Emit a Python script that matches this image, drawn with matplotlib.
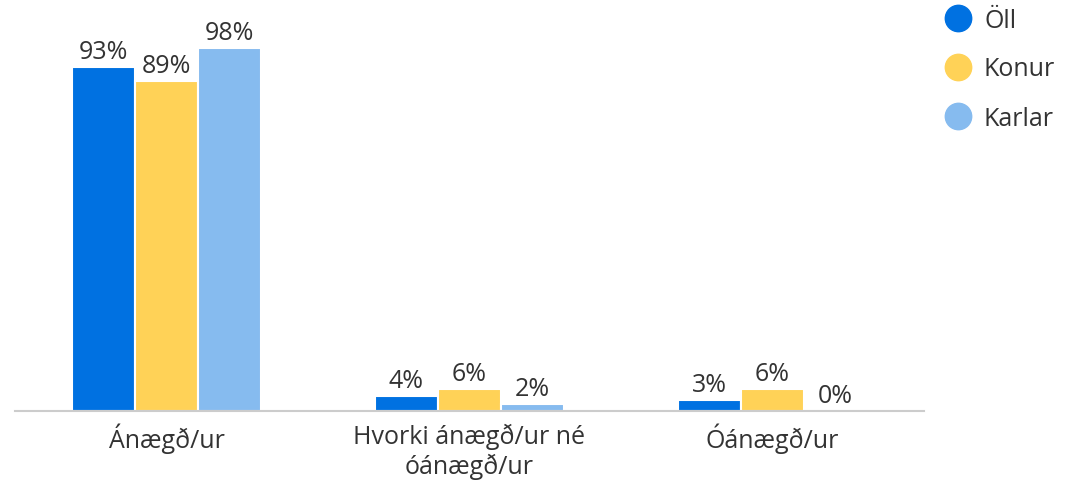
import matplotlib
matplotlib.use("Agg")
import matplotlib.pyplot as plt
import numpy as np

plt.rcParams['font.family'] = ['Open Sans', 'DejaVu Sans']

categories = ["Ánægð/ur", "Hvorki ánægð/ur né\nóánægð/ur", "Óánægð/ur"]
series_names = ["Öll", "Konur", "Karlar"]
oll = [93, 4, 3]
konur = [89, 6, 6]
karlar = [98, 2, 0]
colors = ["#0071E1", "#FFD257", "#86BBEF"]

W, H = 1066, 484
fig = plt.figure(figsize=(W/100, H/100), dpi=100)
ax = fig.add_axes([15/W, 73/H, (924-15)/W, (411-20)/H])

x = np.arange(len(categories))
w = 0.208
text_color = "#333333"
fs = 18
for i, (vals, c) in enumerate(zip([oll, konur, karlar], colors)):
    pos = x + (i - 1) * w
    ax.bar(pos, vals, width=w, color=c, edgecolor="white", linewidth=1.5, zorder=2)
    for p, v in zip(pos, vals):
        ax.annotate(f"{v}%", (p, v), xytext=(0, 1.5), textcoords="offset points",
                    ha="center", va="bottom", fontsize=fs, color=text_color)

ax.set_xlim(-0.5, 2.5)
ax.set_ylim(0, 105.6)
ax.set_xticks(x)
ax.set_xticklabels(categories, fontsize=fs, color=text_color, linespacing=1.2)
ax.tick_params(axis="x", length=0, pad=9)
ax.set_yticks([])
for s in ["top", "right", "left"]:
    ax.spines[s].set_visible(False)
ax.spines["bottom"].set_color("#cccccc")
ax.spines["bottom"].set_linewidth(1.5)

# legend
leg_y = [18, 67, 116]
for name, c, yy in zip(series_names, colors, leg_y):
    fig.add_artist(plt.Line2D([958/W], [1 - yy/H], marker="o", markersize=19,
                              color=c, markeredgecolor=c, linestyle="none",
                              transform=fig.transFigure))
    fig.text(984/W, 1 - (yy + 3)/H, name, fontsize=fs, color=text_color,
             va="center", ha="left")

fig.savefig("out.png", dpi=100)
